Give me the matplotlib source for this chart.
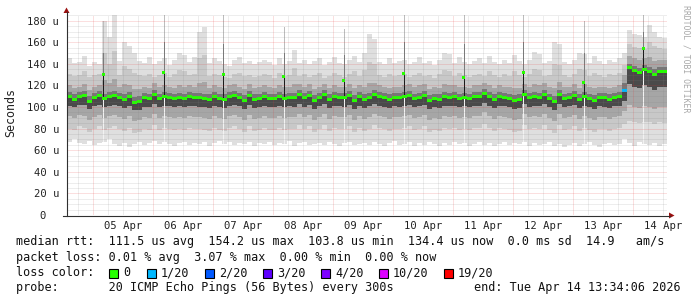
import datetime as dt
import numpy as np
import pandas as pd
import matplotlib
matplotlib.use("Agg")
import matplotlib.pyplot as plt
import matplotlib.dates as mdates
from matplotlib.patches import Rectangle, Polygon
from matplotlib.lines import Line2D

# 2-hour blocks, 10 days ending Tue Apr 14 13:34:06 2026
med = [110, 107, 110, 111, 105, 109, 111, 108, 110, 111,
       109, 107, 110, 104, 105, 109, 108, 112, 108, 110,
       109, 108, 109, 108, 110, 109, 109, 108, 107, 110,
       108, 107, 110, 111, 109, 106, 111, 107, 108, 110,
       108, 108, 110, 108, 109, 109, 112, 109, 111, 106,
       109, 112, 107, 110, 109, 109, 111, 106, 110, 107,
       109, 112, 110, 109, 107, 109, 109, 110, 111, 108,
       109, 111, 106, 108, 107, 110, 109, 110, 108, 109,
       108, 110, 110, 113, 110, 107, 110, 109, 108, 106,
       107, 112, 109, 110, 109, 112, 108, 105, 112, 108,
       109, 111, 107, 110, 108, 106, 109, 109, 107, 109,
       110, 115, 137, 134, 132, 135, 133, 130, 133, 133]

loss = [0] * 111 + [1] + [0] * 8

hi = [145, 141, 142, 147, 138, 142, 140, 180, 165, 185,
      143, 160, 157, 150, 143, 141, 146, 140, 143, 145,
      139, 144, 150, 148, 142, 146, 170, 174, 141, 145,
      143, 140, 138, 144, 146, 141, 143, 140, 142, 144,
      142, 139, 145, 140, 143, 153, 141, 144, 140, 143,
      145, 139, 142, 146, 141, 140, 144, 147, 142, 150,
      168, 163, 142, 140, 145, 141, 143, 144, 140, 142,
      146, 141, 143, 139, 144, 150, 149, 141, 146, 142,
      140, 143, 145, 141, 147, 142, 140, 144, 141, 148,
      143, 140, 144, 151, 149, 141, 143, 160, 158, 142,
      140, 144, 150, 149, 141, 147, 143, 140, 144, 142,
      145, 150, 171, 168, 167, 165, 176, 170, 165, 164]

up1 = [131, 129, 130, 133, 128, 130, 131, 150, 140, 152,
       130, 138, 135, 132, 130, 129, 131, 128, 130, 132,
       128, 131, 134, 133, 130, 131, 145, 148, 129, 131,
       130, 128, 127, 131, 132, 129, 130, 128, 129, 131,
       130, 127, 132, 129, 130, 136, 129, 131, 128, 130,
       132, 127, 129, 132, 130, 128, 131, 133, 129, 134,
       142, 140, 130, 128, 131, 129, 130, 131, 128, 130,
       132, 129, 130, 127, 131, 134, 133, 129, 132, 130,
       128, 130, 131, 129, 133, 130, 128, 131, 129, 133,
       130, 128, 131, 135, 134, 129, 130, 140, 139, 130,
       128, 131, 135, 134, 129, 132, 130, 128, 131, 130,
       132, 139, 158, 156, 155, 154, 160, 157, 155, 154]

up2 = [120, 118, 119, 121, 116, 119, 120, 125, 122, 126,
       119, 121, 120, 117, 117, 119, 118, 122, 119, 120,
       119, 118, 120, 119, 120, 119, 122, 123, 118, 120,
       119, 118, 120, 121, 119, 117, 121, 118, 119, 120,
       119, 118, 120, 119, 119, 121, 121, 119, 121, 117,
       119, 121, 118, 120, 119, 119, 121, 118, 120, 119,
       122, 122, 120, 119, 118, 119, 119, 120, 121, 119,
       120, 121, 117, 119, 118, 121, 120, 120, 119, 119,
       118, 120, 120, 122, 120, 118, 120, 119, 119, 118,
       118, 121, 119, 121, 120, 122, 119, 118, 123, 119,
       119, 121, 118, 121, 119, 118, 119, 119, 118, 119,
       120, 130, 147, 145, 144, 145, 146, 143, 144, 144]

up3 = [114, 112, 114, 115, 110, 113, 115, 112, 114, 115,
       113, 112, 114, 109, 110, 113, 112, 116, 112, 114,
       113, 112, 113, 112, 114, 113, 113, 112, 112, 114,
       112, 112, 114, 115, 113, 111, 115, 112, 112, 114,
       112, 112, 114, 112, 113, 113, 116, 113, 115, 111,
       113, 116, 112, 114, 113, 113, 115, 111, 114, 112,
       113, 116, 114, 113, 112, 113, 113, 114, 115, 112,
       113, 115, 111, 112, 112, 114, 113, 114, 112, 113,
       112, 114, 114, 117, 114, 112, 114, 113, 112, 111,
       112, 116, 113, 114, 113, 116, 112, 110, 116, 112,
       113, 115, 112, 114, 112, 111, 113, 113, 112, 113,
       114, 122, 140, 138, 136, 139, 137, 135, 137, 137]

dk = [101, 100, 102, 102, 98, 101, 102, 100, 101, 102,
      101, 99, 101, 97, 97, 100, 100, 103, 100, 101,
      101, 100, 101, 100, 101, 101, 100, 100, 99, 101,
      100, 99, 101, 102, 101, 98, 102, 99, 100, 101,
      100, 100, 101, 100, 101, 100, 103, 100, 102, 98,
      101, 103, 99, 101, 101, 100, 102, 98, 101, 99,
      101, 103, 101, 100, 99, 101, 100, 101, 102, 100,
      101, 102, 98, 100, 99, 101, 101, 101, 100, 101,
      100, 101, 101, 104, 101, 99, 101, 101, 100, 98,
      99, 103, 100, 101, 101, 103, 100, 97, 103, 100,
      101, 102, 99, 101, 100, 98, 101, 100, 99, 101,
      101, 106, 121, 119, 118, 120, 119, 116, 119, 119]

dn2 = [92, 90, 93, 92, 88, 91, 93, 90, 92, 93,
       91, 89, 92, 87, 88, 91, 90, 94, 90, 92,
       91, 90, 91, 90, 92, 91, 91, 90, 89, 92,
       90, 89, 92, 93, 91, 88, 93, 89, 90, 92,
       90, 90, 92, 90, 91, 91, 94, 91, 93, 88,
       91, 94, 89, 92, 91, 91, 93, 88, 92, 89,
       91, 94, 92, 91, 89, 91, 91, 92, 93, 90,
       91, 93, 88, 90, 89, 92, 91, 92, 90, 91,
       90, 92, 92, 95, 92, 89, 92, 91, 90, 88,
       89, 94, 91, 92, 91, 94, 90, 87, 94, 90,
       91, 93, 89, 92, 90, 88, 91, 91, 89, 91,
       92, 96, 102, 100, 99, 101, 100, 98, 100, 100]

dn1 = [80, 79, 82, 81, 77, 80, 82, 79, 81, 82,
       80, 78, 81, 76, 77, 80, 79, 83, 79, 81,
       80, 79, 80, 79, 81, 80, 80, 79, 78, 81,
       79, 78, 81, 82, 80, 77, 82, 78, 79, 81,
       79, 79, 81, 79, 80, 80, 83, 80, 82, 77,
       80, 83, 78, 81, 80, 80, 82, 77, 81, 78,
       80, 83, 81, 80, 78, 80, 80, 81, 82, 79,
       80, 82, 77, 79, 78, 81, 80, 81, 79, 80,
       79, 81, 81, 84, 81, 78, 81, 80, 79, 77,
       78, 83, 80, 81, 80, 83, 79, 76, 83, 79,
       80, 82, 78, 81, 79, 77, 80, 80, 78, 80,
       81, 84, 87, 86, 85, 86, 86, 84, 86, 85]

lo = [68, 70, 67, 66, 69, 65, 67, 68, 70, 66,
      64, 67, 63, 66, 68, 65, 67, 69, 66, 68,
      66, 64, 67, 68, 65, 67, 66, 68, 64, 67,
      69, 66, 68, 65, 67, 66, 68, 64, 67, 66,
      68, 65, 67, 66, 69, 64, 67, 68, 65, 66,
      67, 65, 68, 66, 64, 67, 68, 65, 66, 67,
      65, 68, 66, 64, 67, 69, 65, 66, 68, 64,
      67, 65, 68, 66, 64, 67, 65, 68, 66, 67,
      64, 66, 68, 65, 67, 64, 66, 68, 65, 67,
      66, 68, 64, 67, 65, 66, 68, 64, 66, 63,
      65, 67, 64, 66, 68, 65, 63, 66, 67, 65,
      66, 70, 67, 64, 68, 66, 65, 67, 64, 66]

# short daily bursts
spike_times = ["2026-04-05 04:10", "2026-04-06 04:20", "2026-04-07 04:05",
               "2026-04-08 04:15", "2026-04-09 04:15", "2026-04-10 04:15",
               "2026-04-11 04:15", "2026-04-12 04:05", "2026-04-13 04:15",
               "2026-04-14 04:05"]
spike_med = [130, 132, 130, 128, 125, 131, 127, 132, 123, 154]
spike_mid = [150, 160, 158, 150, 148, 160, 158, 160, 150, 170]
spike_hi = [180, 186, 186, 174, 172, 186, 186, 186, 180, 186]

loss_colors = {0: "#26ff00", 1: "#00b8ff", 2: "#0059ff", 3: "#5e00ff",
               4: "#7e00ff", 10: "#dd00ff", 19: "#ff0000"}
loss_labels = ["0", "1/20", "2/20", "3/20", "4/20", "10/20", "19/20"]

W, H = 697, 297
MONO = "DejaVu Sans Mono"
plt.rcParams["font.family"] = MONO
plt.rcParams["lines.scale_dashes"] = False

end = dt.datetime(2026, 4, 14, 13, 34, 6)
start = end - dt.timedelta(days=10)
blocks = pd.date_range(start, periods=len(med), freq="2h")
bx = mdates.date2num(blocks.to_pydatetime())
bw = 1 / 12.0

fig = plt.figure(figsize=(W / 100, H / 100), dpi=100)
fig.patch.set_facecolor("white")
ax = fig.add_axes([67 / W, 82 / H, 600 / W, 200 / H])
ymax = 185.3
ax.set_xlim(mdates.date2num(start), mdates.date2num(end))
ax.set_ylim(0, ymax)
for s in ax.spines.values():
    s.set_visible(False)

med_a = np.array(med, float)
layers = [(lo, hi, "#dfdfdf"), (dn1, up1, "#c8c8c8"), (dn2, up2, "#a6a6a6"),
          (dk, up3, "#777777"), (dk, med, "#4a4a4a")]
for bot, top, col in layers:
    bot = np.array(bot, float)
    top = np.array(top, float)
    ax.bar(bx, top - bot, bottom=bot, width=bw, align="edge", color=col,
           linewidth=0, antialiased=False, zorder=2)

# burst columns
sw = 24 / 1440.0
for t, sm, smid, shi in zip(spike_times, spike_med, spike_mid, spike_hi):
    x = mdates.date2num(pd.Timestamp(t).to_pydatetime())
    i = int((x - bx[0]) / bw)
    base = med_a[i]
    ax.bar(x, hi[i] - base, bottom=base, width=sw, align="edge", color="white",
           linewidth=0, antialiased=False, zorder=3)
    ax.bar(x, base - lo[i], bottom=lo[i], width=sw, align="edge", color="#f2f2f2",
           linewidth=0, antialiased=False, zorder=3)
    ax.bar(x, shi - sm, bottom=sm, width=sw, align="edge", color="#bdbdbd",
           linewidth=0, antialiased=False, zorder=3)
    ax.bar(x, smid - sm, bottom=sm, width=sw, align="edge", color="#7a7a7a",
           linewidth=0, antialiased=False, zorder=3)
    ax.bar(x, sm - base + 1, bottom=base - 1, width=sw, align="edge", color="#1a1a1a",
           linewidth=0, antialiased=False, zorder=3)
    ax.bar(x, 2.8, bottom=sm - 1.4, width=sw * 3, align="center",
           color=loss_colors[0], linewidth=0, antialiased=False, zorder=4)

# median band coloured by loss
cols = [loss_colors[l] for l in loss]
ax.bar(bx, 2.8, bottom=med_a - 1.4, width=bw, align="edge", color=cols,
       linewidth=0, antialiased=False, zorder=4)

# grid (dotted, drawn over the data like rrdtool)
dot = (0, (0.72, 0.72))
minor_c = (0.5, 0.5, 0.5, 0.28)
major_c = (0.9, 0.2, 0.2, 0.3)
for v in range(5, 186, 5):
    c, z = (minor_c, 5) if v % 20 else (major_c, 6)
    ax.axhline(v, color=c, lw=0.72, ls=dot, zorder=z)
t = dt.datetime(2026, 4, 4, 18, 0)
while t < end:
    x = mdates.date2num(t)
    c, z = (major_c, 6) if t.hour == 0 else (minor_c, 5)
    ax.axvline(x, color=c, lw=0.72, ls=dot, zorder=z)
    t += dt.timedelta(hours=6)

# ticks
noons = [dt.datetime(2026, 4, d, 12) for d in range(5, 15)]
ax.set_xticks([mdates.date2num(n) for n in noons])
ax.set_xticklabels([n.strftime("%d %b") for n in noons])
ax.set_yticks(range(0, 181, 20))
ax.set_yticklabels(["0  "] + [f"{v} u" for v in range(20, 181, 20)])
ax.tick_params(axis="x", length=0, pad=4.5, labelsize=7.6, colors="#222222")
ax.tick_params(axis="y", length=0, pad=5.5, labelsize=7.6, colors="#222222")
for lab in ax.get_xticklabels() + ax.get_yticklabels():
    lab.set_fontfamily(MONO)

# axes with arrows, in figure pixels
def fx(x):
    return x / W

def fy(y):
    return 1 - y / H

fig.add_artist(Line2D([fx(66.5), fx(66.5)], [fy(215.5), fy(12)], color="#303030", lw=0.8))
fig.add_artist(Line2D([fx(63), fx(670)], [fy(215.5), fy(215.5)], color="#303030", lw=0.8))
arrow_c = "#9a1010"
fig.add_artist(Polygon([[fx(63.5), fy(13)], [fx(69.5), fy(13)], [fx(66.5), fy(7.5)]],
                       closed=True, color=arrow_c, lw=0))
fig.add_artist(Polygon([[fx(669), fy(212.5)], [fx(669), fy(218.5)], [fx(674.5), fy(215.5)]],
                       closed=True, color=arrow_c, lw=0))

fig.text(fx(11), fy(113), "Seconds", rotation=90, ha="center", va="center",
         fontsize=8.4, color="#222222")
fig.text(fx(686), fy(59), "RRDTOOL / TOBI OETIKER", rotation=270, ha="center",
         va="center", fontsize=5.9, color="#a8a8a8")

# legend block
fs = 8.5
tc = "#111111"
fig.text(fx(16), fy(241), "median rtt:  111.5 us avg  154.2 us max  103.8 us min  "
         "134.4 us now  0.0 ms sd  14.9   am/s", ha="left", va="center",
         fontsize=fs, color=tc)
fig.text(fx(16), fy(257), "packet loss: 0.01 % avg  3.07 % max  0.00 % min  0.00 % now",
         ha="left", va="center", fontsize=fs, color=tc)
fig.text(fx(16), fy(273), "loss color:", ha="left", va="center", fontsize=fs, color=tc)
box_x = [109, 147, 205, 263, 321, 379, 444]
for bxp, lab, key in zip(box_x, loss_labels, [0, 1, 2, 3, 4, 10, 19]):
    fig.add_artist(Rectangle((fx(bxp), fy(278)), 9 / W, 9 / H, facecolor=loss_colors[key],
                             edgecolor="black", lw=0.8))
    fig.text(fx(bxp + 14), fy(273), lab, ha="left", va="center", fontsize=fs, color=tc)
fig.text(fx(16), fy(288), "probe:       20 ICMP Echo Pings (56 Bytes) every 300s",
         ha="left", va="center", fontsize=fs, color=tc)
fig.text(fx(681), fy(288), "end: Tue Apr 14 13:34:06 2026", ha="right", va="center",
         fontsize=fs, color=tc)

fig.savefig("out.png", dpi=100, facecolor="white")
